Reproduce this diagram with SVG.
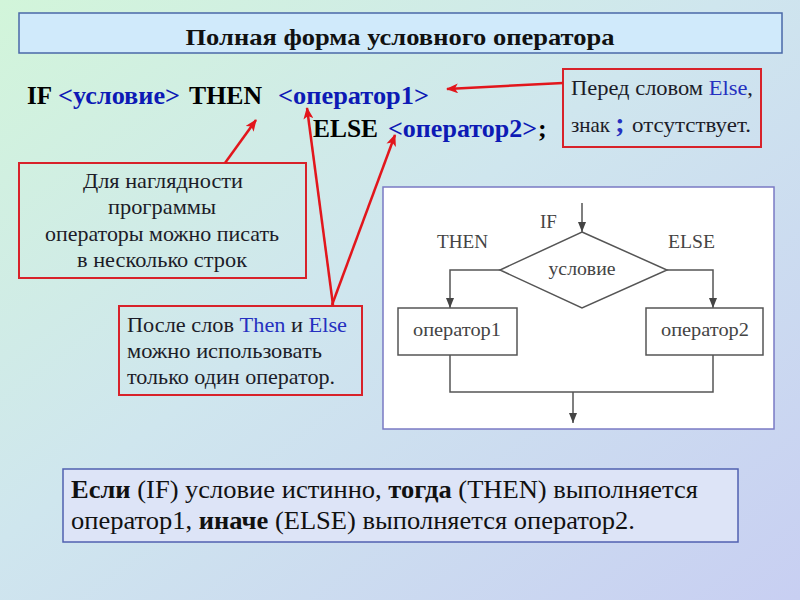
<svg xmlns="http://www.w3.org/2000/svg" width="800" height="600" viewBox="0 0 800 600">
<defs>
<linearGradient id="bg" x1="0" y1="0" x2="1" y2="1">
<stop offset="0" stop-color="#d2f5da"/>
<stop offset="0.45" stop-color="#cfe6ee"/>
<stop offset="1" stop-color="#c8cff2"/>
</linearGradient>
<marker id="ra" viewBox="0 0 12 10" refX="11" refY="5" markerWidth="12" markerHeight="10" markerUnits="userSpaceOnUse" orient="auto">
<path d="M0,0 L12,5 L0,10 L3,5 Z" fill="#e2161c"/>
</marker>
<marker id="ga" viewBox="0 0 10 10" refX="10" refY="5" markerWidth="10" markerHeight="10" markerUnits="userSpaceOnUse" orient="auto">
<path d="M0,1 L10,5 L0,9 Z" fill="#444"/>
</marker>
</defs>
<style>
.serif{font-family:"Liberation Serif","Times New Roman",serif}
.code{font-family:"Liberation Serif",serif;font-weight:bold;font-size:26px;fill:#000}
.blue{fill:#0d1ab5}
.note{font-family:"Liberation Serif",serif;font-size:21px;fill:#1c1c28}
.nblue{fill:#2530c0}
.redbox{fill:none;stroke:#d8222a;stroke-width:2}
.red{stroke:#e2161c;stroke-width:2.5;fill:none;marker-end:url(#ra)}
.fl{stroke:#555;stroke-width:1.5;fill:none}
.fbox{stroke:#555;stroke-width:1.5;fill:#fff}
.ft{font-family:"Liberation Serif",serif;font-size:19px;fill:#444}
.bt{font-family:"Liberation Serif",serif;font-size:25px;fill:#111}
</style>
<rect x="0" y="0" width="800" height="600" fill="url(#bg)"/>

<g id="title">
<rect x="19" y="13" width="763" height="40" fill="#d0eafb" stroke="#4a68a8" stroke-width="1.5"/>
<text class="serif" x="400" y="45" text-anchor="middle" font-weight="bold" font-size="24" textLength="429" lengthAdjust="spacingAndGlyphs" fill="#111">Полная форма условного оператора</text>
</g>

<g id="code">
<text class="code" x="27" y="104" textLength="25" lengthAdjust="spacingAndGlyphs">IF</text>
<text class="code blue" x="58" y="104" textLength="122" lengthAdjust="spacingAndGlyphs">&lt;условие&gt;</text>
<text class="code" x="189" y="104" textLength="73" lengthAdjust="spacingAndGlyphs">THEN</text>
<text class="code blue" x="278" y="104" textLength="151" lengthAdjust="spacingAndGlyphs">&lt;оператор1&gt;</text>
<text class="code" x="313" y="137" textLength="65" lengthAdjust="spacingAndGlyphs">ELSE</text>
<text class="code blue" x="388" y="137" textLength="149" lengthAdjust="spacingAndGlyphs">&lt;оператор2&gt;</text>
<text class="code" x="538" y="137">;</text>
</g>

<g id="note-semicolon">
<rect class="redbox" x="563" y="69" width="198" height="78"/>
<text class="note" x="571" y="95" textLength="182" lengthAdjust="spacingAndGlyphs">Перед словом <tspan class="nblue">Else</tspan>,</text>
<text class="note" x="571" y="132">знак <tspan class="nblue" font-size="28" font-weight="bold">;</tspan></text>
<text class="note" x="632" y="132" textLength="119" lengthAdjust="spacingAndGlyphs">отсутствует.</text>
</g>

<g id="note-lines">
<rect class="redbox" x="19" y="163" width="287" height="115"/>
<text class="note" x="163" y="188" text-anchor="middle" textLength="160" lengthAdjust="spacingAndGlyphs">Для наглядности</text>
<text class="note" x="162" y="214" text-anchor="middle" textLength="108" lengthAdjust="spacingAndGlyphs">программы</text>
<text class="note" x="162" y="241" text-anchor="middle" textLength="234" lengthAdjust="spacingAndGlyphs">операторы можно писать</text>
<text class="note" x="162" y="267" text-anchor="middle" textLength="170" lengthAdjust="spacingAndGlyphs">в несколько строк</text>
</g>

<g id="note-one">
<rect class="redbox" x="119" y="306" width="243" height="89"/>
<text class="note" x="127" y="332" textLength="220" lengthAdjust="spacingAndGlyphs">После слов <tspan class="nblue">Then</tspan> и <tspan class="nblue">Else</tspan></text>
<text class="note" x="127" y="358" textLength="195" lengthAdjust="spacingAndGlyphs">можно использовать</text>
<text class="note" x="127" y="384" textLength="208" lengthAdjust="spacingAndGlyphs">только один оператор.</text>
</g>

<g id="connectors">
<line class="red" x1="563" y1="83" x2="447" y2="89"/>
<line class="red" x1="225" y1="163" x2="256" y2="120"/>
<line class="red" x1="333" y1="305" x2="307" y2="108"/>
<line class="red" x1="332" y1="305" x2="395" y2="135"/>
</g>

<g id="flowchart">
<rect x="383" y="187" width="391" height="242" fill="#fff" stroke="#7a7ac4" stroke-width="1.5"/>
<g id="fc-connectors">
<line class="fl" x1="582" y1="203" x2="582" y2="232" marker-end="url(#ga)"/>
<polyline class="fl" points="500,270 450,270 450,308" marker-end="url(#ga)"/>
<polyline class="fl" points="667,270 713,270 713,308" marker-end="url(#ga)"/>
<polyline class="fl" points="450,355 450,392 713,392 713,355"/>
<line class="fl" x1="573" y1="392" x2="573" y2="423" marker-end="url(#ga)"/>
</g>
<g id="fc-condition">
<polygon class="fbox" points="582,232 667,270 582,308 500,270"/>
<text class="ft" x="582" y="275" text-anchor="middle" textLength="67" lengthAdjust="spacingAndGlyphs">условие</text>
</g>
<g id="fc-op1">
<rect class="fbox" x="398" y="308" width="119" height="47"/>
<text class="ft" x="457" y="336" text-anchor="middle" textLength="88" lengthAdjust="spacingAndGlyphs">оператор1</text>
</g>
<g id="fc-op2">
<rect class="fbox" x="646" y="308" width="117" height="47"/>
<text class="ft" x="705" y="336" text-anchor="middle" textLength="88" lengthAdjust="spacingAndGlyphs">оператор2</text>
</g>
<text class="ft" x="540" y="228">IF</text>
<text class="ft" x="437" y="248" textLength="51" lengthAdjust="spacingAndGlyphs">THEN</text>
<text class="ft" x="668" y="248" textLength="47" lengthAdjust="spacingAndGlyphs">ELSE</text>
</g>

<g id="summary">
<rect x="63" y="469" width="675" height="73" fill="#dde4f7" stroke="#5060b0" stroke-width="1.5"/>
<text class="bt" x="71" y="498" textLength="627" lengthAdjust="spacingAndGlyphs"><tspan font-weight="bold">Если</tspan> (IF) условие истинно, <tspan font-weight="bold">тогда</tspan> (THEN) выполняется</text>
<text class="bt" x="71" y="529" textLength="564" lengthAdjust="spacingAndGlyphs">оператор1, <tspan font-weight="bold">иначе</tspan> (ELSE) выполняется оператор2.</text>
</g>
</svg>
